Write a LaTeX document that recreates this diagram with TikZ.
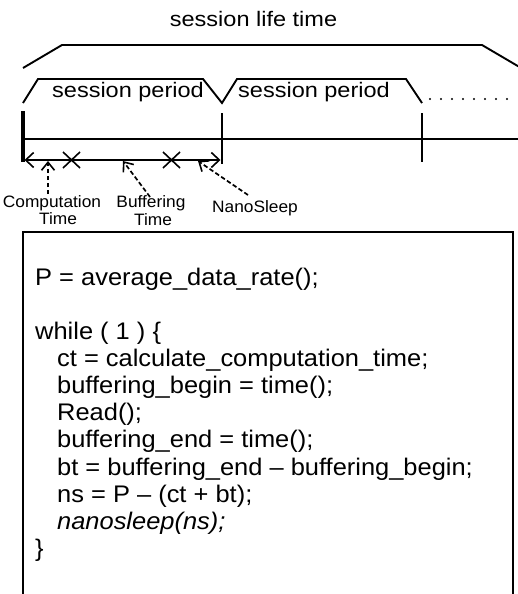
\documentclass[tikz,border=0pt]{standalone}
\usepackage{fontspec}
\setmainfont{Liberation Sans}
\newfontfamily\codefont{Liberation Sans}[FakeStretch=1.06]
\newfontfamily\ttlfont{Liberation Sans}[FakeStretch=1.12]
\newfontfamily\lblfont{Liberation Sans}[FakeStretch=1.05]
\usetikzlibrary{arrows.meta}
\begin{document}
\begin{tikzpicture}[x=1pt,y=-1pt,
  bracket/.style={line width=1.9pt, line join=miter},
  tl/.style={line width=1.6pt},
  dsh/.style={line width=1.7pt, dash pattern=on 4.5pt off 2.5pt},
  upbarb/.style={-{Straight Barb[length=8pt,width=13pt,line width=1.6pt]}},
  endbarbs/.style={{Straight Barb[length=8pt,width=15pt,line width=1.6pt]}-{Straight Barb[length=8pt,width=15pt,line width=1.6pt]}},
  lbl/.style={font=\lblfont\fontsize{16.5}{19}\selectfont, anchor=base, inner sep=0pt},
  codeln/.style={font=\codefont\fontsize{24}{27}\selectfont, anchor=base west, inner sep=0pt},
  ttl/.style={font=\ttlfont\fontsize{21}{24}\selectfont, anchor=base, inner sep=0pt}
]
\useasboundingbox (0,0) rectangle (518,594);
\begin{scope}
\clip (0,0) rectangle (518,594);
% session life time
\node[ttl] (title) at (253.5,27) {session life time};
\draw[bracket] (23,68) -- (62,45) -- (482,45) -- (522,68.5);
% session periods
\draw[bracket] (23,103) -- (38,79) -- (203,79) -- (222,103) -- (237,79) -- (406,79) -- (422,103);
\node[ttl] (sp1) at (128,97) {session period};
\node[ttl] (sp2) at (314,97) {session period};
\foreach \i in {0,...,7} \fill (430+11*\i,99) circle (1.1pt);
% timeline
\draw[line width=4pt] (22.5,111) -- (22.5,162);
\draw[tl] (23,139) -- (518,139);
\draw[tl] (222,113) -- (222,164);
\draw[tl] (422,113) -- (422,162);
\coordinate (ls) at (24.5,160);
\coordinate (le) at (220.5,160);
\draw[tl,endbarbs] (ls) -- (le);
\draw[tl] (63,152) -- (80,168) (63,168) -- (80,152);
\draw[tl] (163,152) -- (180,168) (163,168) -- (180,152);
% labels
\node[lbl] (comp) at (52,207) {Computation};
\node[lbl] (compt) at (58,224) {Time};
\node[lbl] (buf) at (151,207) {Buffering};
\node[lbl] (buft) at (153,225) {Time};
\node[lbl] (ns) at (255,212) {NanoSleep};
\coordinate (cs) at (48,194);
\coordinate (ce) at (48,161);
\coordinate (bs) at (150,197);
\coordinate (be) at (123,161);
\coordinate (nss) at (248,195);
\coordinate (nse) at (198,161);
\draw[dsh,upbarb] (cs) -- (ce);
\draw[dsh,upbarb] (bs) -- (be);
\draw[dsh,upbarb] (nss) -- (nse);
% code box
\draw[line width=1.8pt] (23,600) -- (23,232) -- (513,232) -- (513,600);
\node[codeln] (l1) at (35,285) {P = average\_data\_rate();};
\node[codeln] (l2) at (35,339) {while ( 1 ) \{};
\node[codeln] (l3) at (57,366) {ct = calculate\_computation\_time;};
\node[codeln] (l4) at (57,393) {buffering\_begin = time();};
\node[codeln] (l5) at (57,420) {Read();};
\node[codeln] (l6) at (57,447) {buffering\_end = time();};
\node[codeln] (l7) at (57,475) {bt = buffering\_end – buffering\_begin;};
\node[codeln] (l8) at (57,502) {ns = P – (ct + bt);};
\node[codeln] (l9) at (57,529) {\itshape nanosleep(ns);};
\node[codeln] (l10) at (35,556) {\}};
\end{scope}
\end{tikzpicture}
\end{document}
